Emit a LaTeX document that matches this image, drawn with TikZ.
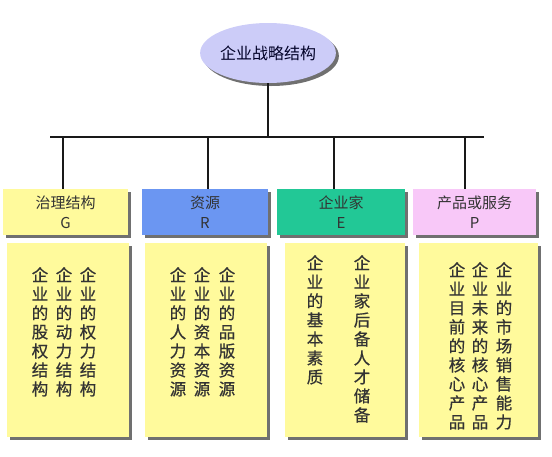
\documentclass[tikz,border=0pt]{standalone}
\usepackage{fontspec}
\setmainfont{Noto Sans CJK SC}
\newfontfamily\colfont[FakeBold=0.6]{Noto Sans CJK SC}
\usetikzlibrary{shapes.geometric,shadows}
\definecolor{ellfill}{HTML}{CCCCF8}
\definecolor{yel}{HTML}{FFFA9C}
\definecolor{blu}{HTML}{6B96F2}
\definecolor{grn}{HTML}{22C896}
\definecolor{pnk}{HTML}{F8C8F8}
\definecolor{shd}{HTML}{707070}
\begin{document}
\begin{tikzpicture}[x=1pt,y=-1pt,
  shd/.style={drop shadow={shadow xshift=3pt,shadow yshift=-3pt,fill=shd,opacity=1}},
  hdr/.style={rectangle,shd,inner sep=0pt,align=center,font=\fontsize{15}{20}\selectfont,text=black!80},
  lowbox/.style={rectangle,shd,fill=yel,inner sep=0pt},
  col/.style={anchor=north,inner sep=0pt,align=center,font=\colfont\fontsize{16.5}{19}\selectfont,text=black!80},
  bar/.style={line width=2.6pt,black!90}]
\useasboundingbox (0,0) rectangle (552,456);
% top ellipse
\node[ellipse,fill=ellfill,shd,minimum width=115pt,minimum height=60pt,inner sep=0pt,
      font=\fontsize{16}{18}\selectfont,text=black!75!blue!60!black] (ell) at (268,53) {企业战略结构};
% header boxes
\node[hdr,fill=yel,minimum width=125pt,minimum height=46pt] (h1) at (65.5,212) {治理结构\\G};
\node[hdr,fill=blu,minimum width=126pt,minimum height=46pt] (h2) at (205,212) {资源\\R};
\node[hdr,fill=grn,minimum width=128pt,minimum height=46pt] (h3) at (341,212) {企业家\\E};
\node[hdr,fill=pnk,minimum width=123pt,minimum height=46pt] (h4) at (474.5,212) {产品或服务\\P};
% lower boxes
\node[lowbox,minimum width=122pt,minimum height=194pt] (b1) at (68,340) {};
\node[lowbox,minimum width=122pt,minimum height=194pt] (b2) at (206,340) {};
\node[lowbox,minimum width=120pt,minimum height=194pt] (b3) at (345,340) {};
\node[lowbox,minimum width=119pt,minimum height=194pt] (b4) at (478.5,340) {};
% connectors
\coordinate (bl) at (50,137);
\coordinate (br) at (484,137);
\coordinate (j0) at (268,137);
\coordinate (d1) at (63,137);
\coordinate (d2) at (208,137);
\coordinate (d3) at (334,137);
\coordinate (d4) at (465,137);
\draw[bar] (ell.south) -- (j0);
\draw[bar] (bl) -- (br);
\draw[bar] (d1) -- (d1 |- h1.north);
\draw[bar] (d2) -- (d2 |- h2.north);
\draw[bar] (d3) -- (d3 |- h3.north);
\draw[bar] (d4) -- (d4 |- h4.north);
% vertical texts
\node[col] (t11) at (40,267) {企\\业\\的\\股\\权\\结\\构};
\node[col] (t12) at (64,267) {企\\业\\的\\动\\力\\结\\构};
\node[col] (t13) at (88,267) {企\\业\\的\\权\\力\\结\\构};
\node[col] (t21) at (178,267) {企\\业\\的\\人\\力\\资\\源};
\node[col] (t22) at (202,267) {企\\业\\的\\资\\本\\资\\源};
\node[col] (t23) at (227,267) {企\\业\\的\\品\\版\\资\\源};
\node[col] (t31) at (315,255) {企\\业\\的\\基\\本\\素\\质};
\node[col] (t32) at (362,255) {企\\业\\家\\后\\备\\人\\才\\储\\备};
\node[col] (t41) at (457,262) {企\\业\\目\\前\\的\\核\\心\\产\\品};
\node[col] (t42) at (480,262) {企\\业\\未\\来\\的\\核\\心\\产\\品};
\node[col] (t43) at (504,262) {企\\业\\的\\市\\场\\销\\售\\能\\力};
\end{tikzpicture}
\end{document}
